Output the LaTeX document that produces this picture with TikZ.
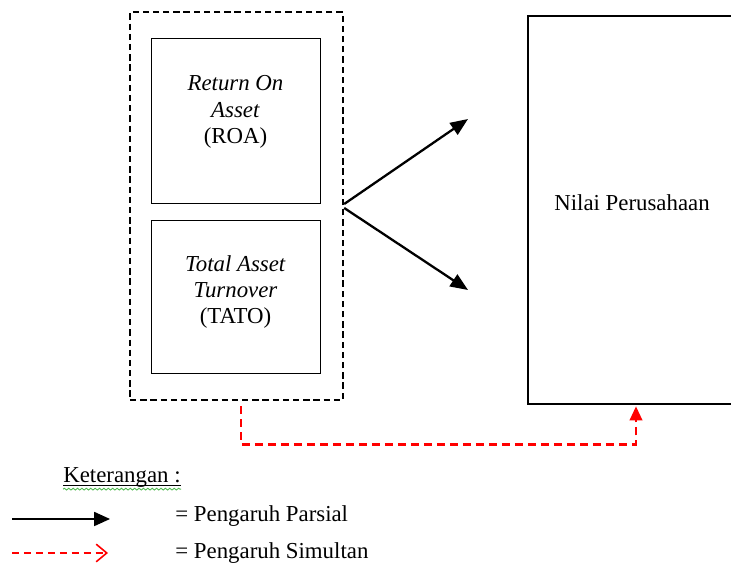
\documentclass[tikz,border=0pt]{standalone}
\usepackage{fontspec}
\setmainfont{Liberation Serif}
\usetikzlibrary{arrows.meta,decorations.pathmorphing}

\begin{document}
\begin{tikzpicture}[x=0.02cm,y=-0.02cm,every node/.style={draw,rectangle,inner sep=0pt},
  txt/.style={draw=none,align=center,font=\fontsize{13}{14.9}\selectfont}]
\useasboundingbox (0,0) rectangle (731,563);

\node[line width=1.4pt,dash pattern=on 3.6pt off 2.2pt,minimum width=4.26cm,minimum height=7.76cm] (var) at (236.5,206) {};
\node[line width=0.45pt,minimum width=3.38cm,minimum height=3.3cm] (roa) at (235.5,120.5) {};
\node[line width=0.45pt,minimum width=3.38cm,minimum height=3.06cm] (tato) at (235.5,296.5) {};
\node[line width=1.5pt,minimum width=4.24cm,minimum height=7.76cm] (nilai) at (634,210) {};

\node[txt] (troa) at (235.5,112) {\textit{Return On}\\\textit{Asset}\\(ROA)};
\node[txt] (ttato) at (235.5,292) {\textit{Total Asset}\\\textit{Turnover}\\(TATO)};
\node[txt] (tnilai) at (632,203) {Nilai Perusahaan};

\coordinate (p1) at (468,119);
\coordinate (p2) at (468,290);
\draw[line width=1.3pt,-{Triangle[length=10pt,width=8pt]}] ([yshift=0.04cm]var.east) -- (p1);
\draw[line width=1.3pt,-{Triangle[length=10pt,width=8pt]}] ([yshift=-0.04cm]var.east) -- (p2);

\draw[red,line width=1.5pt,dash pattern=on 4.6pt off 2.8pt,-{Triangle[length=8pt,width=7pt]}]
  ([xshift=0.09cm,yshift=-0.1cm]var.south) |- ([xshift=0.04cm,yshift=-0.78cm]nilai.south) -- ([xshift=0.04cm,yshift=-0.02cm]nilai.south);

% keterangan
\node[txt,anchor=base west] (ket) at (63,483) {Keterangan :};
\draw[line width=0.5pt] ([yshift=-1.5pt]ket.base west) -- ([yshift=-1.5pt]ket.base east);
\draw[green!60!black!70,line width=0.5pt,decorate,decoration={snake,amplitude=0.5pt,segment length=2.5pt}]
  ([yshift=-3.5pt]ket.base west) -- ([yshift=-3.5pt]ket.base east);

\coordinate (a1) at (12,519);
\coordinate (b1) at (110,519);
\coordinate (a2) at (12,553);
\coordinate (b2) at (108,553);
\draw[line width=0.8pt,-{Triangle[length=9pt,width=8pt]}] (a1) -- (b1);
\draw[red,line width=0.8pt,dash pattern=on 4pt off 2.8pt,-{Straight Barb[length=6pt,width=10pt,line width=0.9pt]}] (a2) -- (b2);
\node[txt,anchor=west] (parsial) at (175,516) {= Pengaruh Parsial};
\node[txt,anchor=west] (simultan) at (175,553) {= Pengaruh Simultan};
\end{tikzpicture}
\end{document}
